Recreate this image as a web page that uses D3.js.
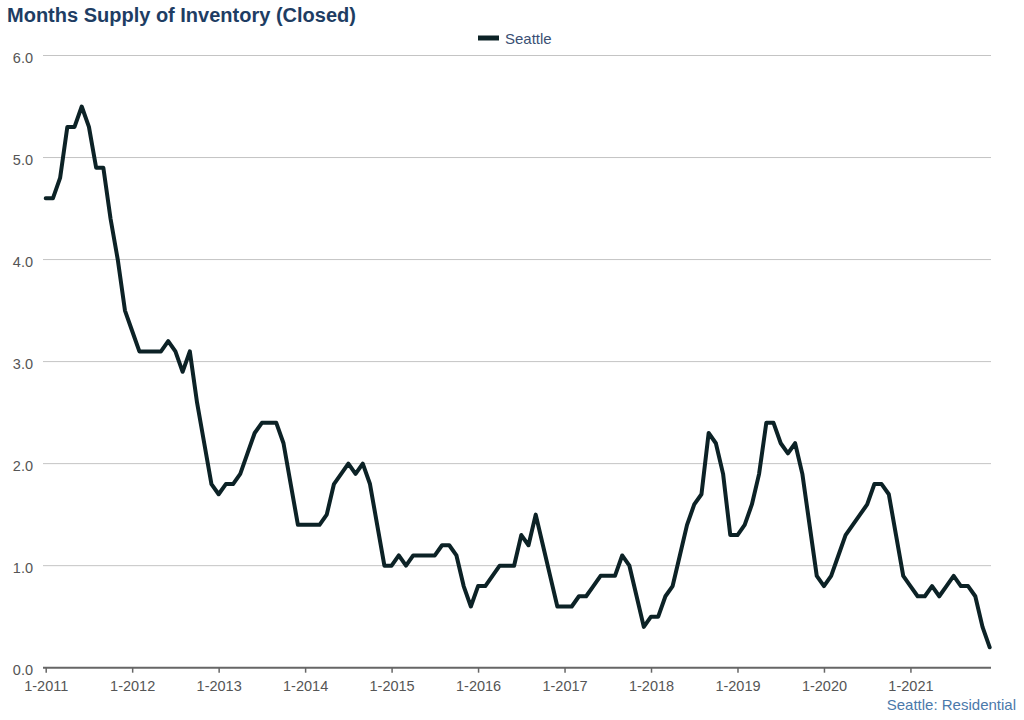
<!DOCTYPE html>
<html>
<head>
<meta charset="utf-8">
<script src="https://cdn.jsdelivr.net/npm/d3@7"></script>
<style>
  body { margin: 0; background: #fff; font-family: "Liberation Sans", Arial, sans-serif; }
</style>
</head>
<body>
<div id="chart-area"></div>
<script>
// Months supply of inventory, Seattle residential, monthly 1-2011 .. 12-2021
const years = [2011, 2012, 2013, 2014, 2015, 2016, 2017, 2018, 2019, 2020, 2021]
const seattle = [
  4.6, 4.6, 4.8, 5.3, 5.3, 5.5, 5.3, 4.9, 4.9, 4.4, 4.0, 3.5,
  3.3, 3.1, 3.1, 3.1, 3.1, 3.2, 3.1, 2.9, 3.1, 2.6, 2.2, 1.8,
  1.7, 1.8, 1.8, 1.9, 2.1, 2.3, 2.4, 2.4, 2.4, 2.2, 1.8, 1.4,
  1.4, 1.4, 1.4, 1.5, 1.8, 1.9, 2.0, 1.9, 2.0, 1.8, 1.4, 1.0,
  1.0, 1.1, 1.0, 1.1, 1.1, 1.1, 1.1, 1.2, 1.2, 1.1, 0.8, 0.6,
  0.8, 0.8, 0.9, 1.0, 1.0, 1.0, 1.3, 1.2, 1.5, 1.2, 0.9, 0.6,
  0.6, 0.6, 0.7, 0.7, 0.8, 0.9, 0.9, 0.9, 1.1, 1.0, 0.7, 0.4,
  0.5, 0.5, 0.7, 0.8, 1.1, 1.4, 1.6, 1.7, 2.3, 2.2, 1.9, 1.3,
  1.3, 1.4, 1.6, 1.9, 2.4, 2.4, 2.2, 2.1, 2.2, 1.9, 1.4, 0.9,
  0.8, 0.9, 1.1, 1.3, 1.4, 1.5, 1.6, 1.8, 1.8, 1.7, 1.3, 0.9,
  0.8, 0.7, 0.7, 0.8, 0.7, 0.8, 0.9, 0.8, 0.8, 0.7, 0.4, 0.2
]
const yTicks = [0, 1, 2, 3, 4, 5, 6]

const WIDTH = 1024
const HEIGHT = 720
const LINE_COLOR = "#0c2226"

const svg = d3.select("#chart-area").append("svg")
  .attr("width", WIDTH)
  .attr("height", HEIGHT)

// Scales
const x = d3.scaleLinear()
  .domain([0, seattle.length - 1])
  .range([45.7, 989.7])
const y = d3.scaleLinear()
  .domain([0, 6])
  .range([667.7, 55.5])

// Title
svg.append("text")
  .attr("x", 7)
  .attr("y", 22)
  .attr("font-size", "20px")
  .attr("font-weight", "bold")
  .attr("fill", "#1e3d63")
  .text("Months Supply of Inventory (Closed)")

// Legend
const legend = svg.append("g")
  .attr("transform", "translate(478, 38)")
legend.append("line")
  .attr("x1", 0).attr("x2", 21)
  .attr("stroke", LINE_COLOR)
  .attr("stroke-width", 5)
legend.append("text")
  .attr("x", 27)
  .attr("y", 6)
  .attr("font-size", "15px")
  .attr("fill", "#3a4f73")
  .text("Seattle")

// Gridlines + Y labels
const grid = svg.append("g")
grid.selectAll("line")
  .data(yTicks.filter(d => d > 0))
  .enter().append("line")
  .attr("x1", 43).attr("x2", 991)
  .attr("y1", d => y(d)).attr("y2", d => y(d))
  .attr("stroke", "#c4c4c4")
  .attr("stroke-width", 1)

const yAxisCall = d3.axisLeft(y)
  .tickValues(yTicks)
  .tickFormat(d3.format(".1f"))
  .tickSize(0)
  .tickPadding(10)
const yAxis = svg.append("g")
  .attr("transform", "translate(43, 0)")
  .call(yAxisCall)
yAxis.select(".domain").remove()
yAxis.selectAll("text")
  .attr("font-family", "Liberation Sans, Arial, sans-serif")
  .attr("font-size", "14.5px")
  .attr("fill", "#555")
  .attr("dy", "0.45em")

// X Axis
const xAxisCall = d3.axisBottom(x)
  .tickValues(years.map((d, i) => i * 12))
  .tickFormat((d, i) => `1-${years[i]}`)
  .tickSize(5)
  .tickPadding(8)
const xAxis = svg.append("g")
  .attr("transform", `translate(0, ${y(0)})`)
  .call(xAxisCall)
xAxis.select(".domain").remove()
xAxis.selectAll(".tick line")
  .attr("stroke", "#666")
  .attr("stroke-width", 1.5)
xAxis.selectAll("text")
  .attr("font-family", "Liberation Sans, Arial, sans-serif")
  .attr("font-size", "14.5px")
  .attr("fill", "#555")
svg.append("line")
  .attr("x1", 43).attr("x2", 991)
  .attr("y1", y(0)).attr("y2", y(0))
  .attr("stroke", "#666")
  .attr("stroke-width", 2)

// Line
const line = d3.line()
  .x((d, i) => x(i))
  .y(d => y(d))
svg.append("path")
  .datum(seattle)
  .attr("fill", "none")
  .attr("stroke", LINE_COLOR)
  .attr("stroke-width", 4)
  .attr("stroke-linejoin", "round")
  .attr("stroke-linecap", "round")
  .attr("d", line)

// Footer
svg.append("text")
  .attr("x", 1016)
  .attr("y", 710)
  .attr("text-anchor", "end")
  .attr("font-size", "15px")
  .attr("fill", "#4b79aa")
  .text("Seattle: Residential")
</script>
</body>
</html>
